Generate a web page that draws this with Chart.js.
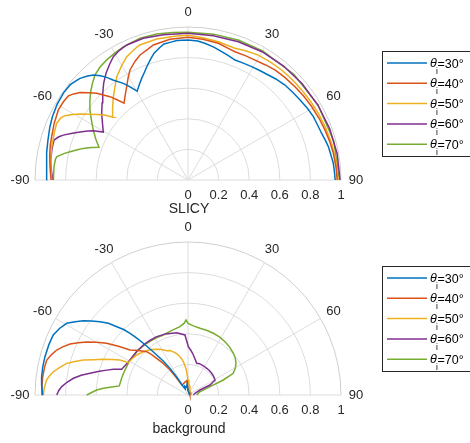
<!DOCTYPE html>
<html>
<head>
<meta charset="utf-8">
<script src="https://cdn.jsdelivr.net/npm/chart.js@4.4.0/dist/chart.umd.min.js"></script>
<style>
	body { margin: 0; background: #fff; }
	#wrap { position: relative; width: 470px; height: 443px; }
	canvas { position: absolute; left: 0; }
</style>
</head>
<body>
<div id="wrap">
	<canvas id="slicy" width="470" height="220" style="top:0"></canvas>
	<canvas id="background" width="470" height="223" style="top:220px"></canvas>
</div>
<script>
// Incidence angles (legend) and axis ticks.
var incidence = [30, 40, 50, 60, 70];
var angleTicks = [-90, -60, -30, 0, 30, 60, 90];
var radialTicks = [0, 0.2, 0.4, 0.6, 0.8, 1];
var radialTickLabels = ["0", "0.2", "0.4", "0.6", "0.8", "1"];

// SLICY panel: [angle in degrees, radius]
var slicy30 = [[-90,0.924],[-84,0.93],[-79,0.94],[-74,0.952],[-69,0.967],[-65,0.978],[-60,0.988],[-55,0.993],[-51,0.99],[-48,0.975],[-46.7,0.969],[-44,0.945],[-42,0.924],[-40,0.89],[-38.4,0.856],[-36.9,0.817],[-33.8,0.76],[-32,0.72],[-29.8,0.669],[-27,0.7],[-24.5,0.73],[-22,0.76],[-20,0.788],[-17,0.83],[-15,0.858],[-12,0.885],[-10,0.903],[-7,0.908],[-4.6,0.914],[0,0.915],[4,0.91],[7,0.9],[11,0.885],[14.7,0.867],[18,0.855],[21.4,0.842],[25,0.845],[29.3,0.85],[33,0.855],[37.4,0.864],[41,0.875],[45.6,0.887],[50,0.893],[54.5,0.9],[59,0.91],[63.2,0.918],[67,0.92],[70.7,0.925],[74,0.935],[76.6,0.943],[80,0.948],[83.4,0.956],[86,0.958],[90,0.962]];
var slicy40 = [[-90,0.895],[-85,0.905],[-80,0.918],[-76,0.928],[-72.4,0.935],[-67,0.95],[-61.6,0.963],[-58,0.962],[-54.9,0.956],[-53,0.935],[-51,0.909],[-48.5,0.86],[-46.5,0.823],[-43.1,0.746],[-41.5,0.7],[-39.8,0.653],[-36.5,0.69],[-33.3,0.73],[-30.5,0.772],[-27.8,0.813],[-24,0.85],[-21,0.875],[-17,0.895],[-14.4,0.911],[-7.3,0.927],[0,0.933],[6,0.925],[12.5,0.915],[17,0.9],[20.1,0.893],[25,0.895],[29.2,0.898],[34,0.907],[38.3,0.917],[43.5,0.922],[48.9,0.928],[54,0.934],[59.4,0.94],[65,0.947],[69.9,0.953],[75,0.96],[79.6,0.966],[85,0.971],[90,0.975]];
var slicy50 = [[-90,0.89],[-85,0.9],[-80,0.91],[-76.3,0.917],[-70,0.928],[-66.6,0.935],[-64,0.925],[-62.4,0.907],[-60.5,0.87],[-58.6,0.827],[-56.5,0.78],[-54.3,0.735],[-52,0.69],[-50.2,0.64],[-46,0.685],[-41.9,0.731],[-38,0.775],[-34.6,0.82],[-30,0.865],[-26.4,0.9],[-22,0.925],[-19.6,0.937],[-12.5,0.944],[-4.5,0.944],[0,0.946],[6,0.935],[12.4,0.925],[19.6,0.914],[24,0.925],[29.4,0.937],[35,0.94],[40.4,0.944],[46,0.946],[51.6,0.948],[57,0.952],[62.9,0.957],[69,0.962],[75.7,0.969],[82,0.974],[90,0.98]];
var slicy60 = [[-90,0.884],[-86,0.895],[-81.7,0.907],[-77,0.912],[-73.4,0.914],[-71.5,0.89],[-70.2,0.866],[-68,0.815],[-66,0.772],[-64,0.73],[-62.5,0.698],[-60.5,0.636],[-56,0.675],[-52.3,0.713],[-48,0.755],[-44.5,0.795],[-41,0.84],[-37.5,0.88],[-34,0.915],[-31.2,0.942],[-28,0.958],[-24.4,0.969],[-17.5,0.971],[-9.6,0.963],[0,0.959],[10,0.958],[20,0.962],[30,0.968],[40,0.972],[50,0.976],[60,0.98],[70,0.985],[80,0.99],[90,0.994]];
var slicy70 = [[-90,0.88],[-84.3,0.88],[-81,0.877],[-79.9,0.87],[-78,0.83],[-76.5,0.793],[-75,0.755],[-73.2,0.715],[-71.5,0.67],[-69.8,0.62],[-66,0.66],[-62.2,0.7],[-58,0.745],[-54.5,0.787],[-51,0.825],[-47.8,0.859],[-44.5,0.89],[-41.5,0.917],[-38,0.935],[-34.1,0.948],[-30,0.958],[-25.9,0.968],[-18.7,0.978],[-12.1,0.976],[-6,0.97],[0,0.965],[10,0.968],[20,0.972],[30,0.975],[45,0.978],[60,0.981],[75,0.986],[90,0.99]];

// background panel: [angle in degrees, radius]
var back30 = [[-90,0.95],[-86,0.958],[-83,0.964],[-79,0.967],[-75,0.968],[-70,0.967],[-66,0.964],[-62.5,0.945],[-59.4,0.921],[-57,0.88],[-54.6,0.839],[-52.5,0.795],[-50.2,0.749],[-48,0.7],[-46.2,0.645],[-44.5,0.6],[-43.2,0.553],[-42,0.5],[-40.8,0.447],[-39.5,0.39],[-38,0.332],[-36,0.27],[-34,0.21],[-32,0.14],[-29.5,0.062],[-25,0.045],[-20,0.06],[-15,0.05],[-10,0.055],[-5,0.07],[0,0.03],[10,0.02],[30,0.015],[60,0.01],[90,0.01]];
var back40 = [[-90,0.955],[-86,0.957],[-82.8,0.957],[-79,0.955],[-76.1,0.951],[-73.5,0.93],[-71.1,0.907],[-68.8,0.875],[-66.6,0.84],[-64.5,0.795],[-62.4,0.747],[-60,0.69],[-57.6,0.63],[-55,0.555],[-52.2,0.48],[-49.5,0.45],[-47.3,0.427],[-43.6,0.391],[-42,0.355],[-40.5,0.315],[-38,0.26],[-35.8,0.201],[-34,0.14],[-32,0.077],[-28,0.075],[-22,0.08],[-15,0.085],[-8,0.09],[-4,0.1],[0,0.04],[10,0.02],[30,0.018],[60,0.015],[90,0.012]];
var back50 = [[-90,0.946],[-87,0.94],[-83.9,0.929],[-82,0.912],[-80.2,0.893],[-77.8,0.857],[-75.4,0.82],[-73.5,0.77],[-71.5,0.721],[-69.5,0.66],[-67.2,0.601],[-65,0.55],[-62.8,0.5],[-61.6,0.444],[-57,0.435],[-52,0.425],[-47,0.41],[-43,0.396],[-38.5,0.38],[-34.4,0.362],[-30,0.343],[-25.7,0.321],[-22.1,0.313],[-17,0.29],[-13.6,0.269],[-10.5,0.245],[-8,0.22],[-5,0.18],[-3.3,0.153],[0,0.098],[5,0.07],[13.5,0.056],[25,0.03],[50,0.025],[90,0.024]];
var back60 = [[-90,0.858],[-88,0.845],[-86.2,0.827],[-84,0.795],[-81.7,0.757],[-79.5,0.71],[-77.5,0.656],[-75,0.6],[-73,0.556],[-71,0.515],[-69.3,0.475],[-68.8,0.465],[-64,0.452],[-58.9,0.443],[-50,0.44],[-41.8,0.438],[-35,0.435],[-28.2,0.433],[-20,0.425],[-10.3,0.414],[-2.9,0.393],[0.4,0.316],[4,0.29],[7.6,0.264],[11,0.24],[15.3,0.215],[20,0.218],[24.5,0.216],[30,0.215],[35,0.213],[41,0.212],[47.5,0.21],[54,0.207],[61,0.202],[63,0.18],[65.6,0.158],[67.4,0.085],[75,0.05],[90,0.035]];
var back70 = [[-90,0.662],[-88.5,0.63],[-86.9,0.598],[-85.5,0.555],[-84.4,0.512],[-82.5,0.453],[-75,0.447],[-68.4,0.443],[-58.9,0.443],[-48,0.438],[-38.6,0.433],[-30,0.428],[-22.4,0.424],[-14,0.435],[-6.7,0.45],[-3,0.47],[-1.5,0.49],[0,0.468],[5,0.452],[10.2,0.443],[16,0.44],[22.3,0.436],[28,0.432],[34.8,0.424],[41,0.415],[47.4,0.403],[52,0.392],[56.6,0.376],[60.5,0.355],[64.4,0.328],[67,0.251],[69.3,0.154],[75,0.08],[90,0.057]];

var colors = ["#0072BD", "#D95319", "#EDB120", "#7E2F8E", "#77AC30"];
var FONT = "'Liberation Sans', Arial, Helvetica, sans-serif";
var TEXT = "#262626";
var PX_PER_UNIT = 153;

// polar (deg from north, clockwise) -> cartesian data coords
function toXY(pairs) {
	return pairs.map(function (p) {
		var a = p[0] * Math.PI / 180;
		return { x: p[1] * Math.sin(a), y: p[1] * Math.cos(a) };
	});
}

function polarPlugin(title, titleBaseline, legendTop) {
	return {
		id: "polarFrame",
		beforeDatasetsDraw: function (chart) {
			var ctx = chart.ctx;
			var cx = chart.scales.x.getPixelForValue(0);
			var cy = chart.scales.y.getPixelForValue(0);
			var rad = chart.scales.x.getPixelForValue(1) - cx;
			ctx.save();
			ctx.lineWidth = 1;
			radialTicks.forEach(function (r) {
				if (r === 0) return;
				ctx.strokeStyle = r === 1 ? "#cfcfcf" : "#dcdcdc";
				ctx.beginPath();
				ctx.arc(cx, cy, r * rad, Math.PI, 2 * Math.PI);
				ctx.stroke();
			});
			ctx.strokeStyle = "#dcdcdc";
			angleTicks.forEach(function (t) {
				var a = t * Math.PI / 180;
				ctx.beginPath();
				ctx.moveTo(cx, cy);
				ctx.lineTo(cx + rad * Math.sin(a), cy - rad * Math.cos(a));
				ctx.stroke();
			});
			ctx.restore();
		},
		afterDraw: function (chart) {
			var ctx = chart.ctx;
			var cx = chart.scales.x.getPixelForValue(0);
			var cy = chart.scales.y.getPixelForValue(0);
			var rad = chart.scales.x.getPixelForValue(1) - cx;
			ctx.save();
			ctx.fillStyle = TEXT;
			ctx.textAlign = "center";
			ctx.textBaseline = "middle";
			ctx.font = "13px " + FONT;
			angleTicks.forEach(function (t) {
				var a = t * Math.PI / 180;
				ctx.fillText(String(t), cx + (rad + 15) * Math.sin(a), cy - (rad + 15) * Math.cos(a));
			});
			radialTicks.forEach(function (r, i) {
				ctx.fillText(radialTickLabels[i], cx + r * rad, cy + 15);
			});
			ctx.font = "14px " + FONT;
			ctx.textBaseline = "alphabetic";
			ctx.fillText(title, cx + 1, cy + titleBaseline);

			// legend box
			ctx.strokeStyle = "#262626";
			ctx.lineWidth = 1;
			ctx.fillStyle = "#ffffff";
			ctx.fillRect(382.5, legendTop + 0.5, 100, 105);
			ctx.strokeRect(382.5, legendTop + 0.5, 100, 105);
			incidence.forEach(function (inc, i) {
				var y = legendTop + 12 + i * 20.3;
				ctx.strokeStyle = colors[i];
				ctx.lineWidth = 1.5;
				ctx.beginPath();
				ctx.moveTo(387, y);
				ctx.lineTo(427, y);
				ctx.stroke();
				ctx.fillStyle = "#000";
				ctx.textAlign = "left";
				ctx.textBaseline = "alphabetic";
				ctx.font = "italic 12.5px " + FONT;
				ctx.fillText("\u03b8", 430, y + 4);
				ctx.font = "8.5px " + FONT;
				ctx.fillText("i", 436, y + 11);
				ctx.font = "12.5px " + FONT;
				ctx.fillText("=" + inc + "\u00b0", 437.5, y + 4.5);
			});
			ctx.restore();
		},
	};
}

function makePolar(id, series, title, centerY, height, titleBaseline, legendTop) {
	var datasets = series.map(function (s, i) {
		return {
			label: "\u03b8i=" + incidence[i] + "\u00b0",
			data: toXY(s),
			showLine: true,
			borderColor: colors[i],
			backgroundColor: colors[i],
			borderWidth: 1.5,
			pointRadius: 0,
			tension: 0,
		};
	});
	return new Chart(document.getElementById(id), {
		type: "scatter",
		data: { datasets: datasets },
		plugins: [polarPlugin(title, titleBaseline, legendTop)],
		options: {
			responsive: false,
			animation: false,
			devicePixelRatio: 1,
			layout: { padding: 0 },
			plugins: { legend: { display: false }, tooltip: { enabled: false } },
			scales: {
				x: { type: "linear", display: false, min: -188 / PX_PER_UNIT, max: (470 - 188) / PX_PER_UNIT },
				y: { type: "linear", display: false, min: -(height - centerY) / PX_PER_UNIT, max: centerY / PX_PER_UNIT },
			},
		},
	});
}

makePolar("slicy", [slicy30, slicy40, slicy50, slicy60, slicy70], "SLICY", 180, 220, 33, 51);
makePolar("background", [back30, back40, back50, back60, back70], "background", 175, 223, 38, 46);
</script>
</body>
</html>
